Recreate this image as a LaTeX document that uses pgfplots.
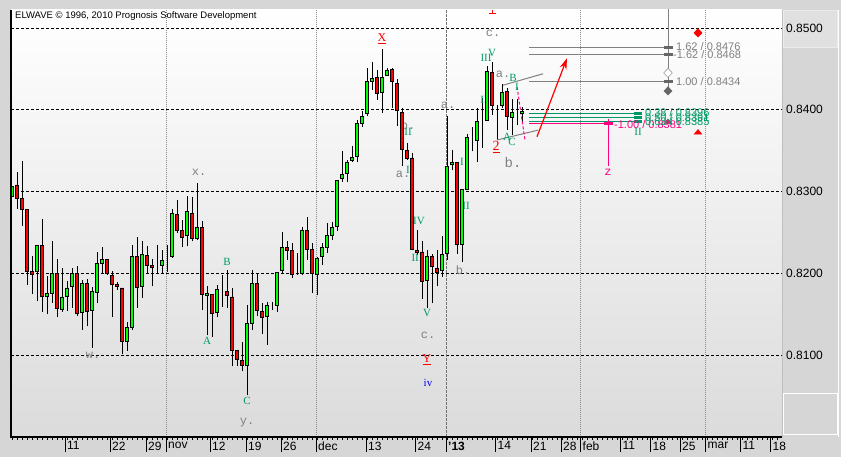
\documentclass[border=0pt]{standalone}
\usepackage{pgfplots}
\pgfplotsset{compat=1.18}
\usepackage{pgfplotstable}
\usepackage{fontspec}
\setmainfont{Liberation Sans}
\newfontfamily\mono{Liberation Mono}
\newfontfamily\serif{Liberation Serif}
\usetikzlibrary{arrows.meta}
\definecolor{teal2}{HTML}{009966}
\definecolor{pinkm}{HTML}{FF0080}
\definecolor{lgreen}{HTML}{00FF00}
\definecolor{framegray}{HTML}{D6D6D6}
\definecolor{fibgray}{HTML}{808080}
\pgfplotstableread{
i o h l c
1 0.8294 0.8320 0.8268 0.8306
2 0.8308 0.8324 0.8279 0.8292
3 0.8292 0.8337 0.8258 0.8278
4 0.8278 0.8279 0.8186 0.8202
5 0.8202 0.8221 0.8175 0.8199
6 0.8202 0.8235 0.8166 0.8234
7 0.8234 0.8266 0.8153 0.8172
8 0.8172 0.8197 0.8150 0.8175
9 0.8175 0.8240 0.8164 0.8200
10 0.8200 0.8218 0.8146 0.8157
11 0.8156 0.8206 0.8153 0.8171
12 0.8172 0.8191 0.8154 0.8182
13 0.8184 0.8207 0.8158 0.8200
14 0.8200 0.8209 0.8148 0.8151
15 0.8152 0.8192 0.8131 0.8188
16 0.8187 0.8193 0.8135 0.8153
17 0.8155 0.8183 0.8109 0.8178
18 0.8177 0.8226 0.8163 0.8212
19 0.8212 0.8232 0.8200 0.8217
20 0.8217 0.8218 0.8198 0.8200
21 0.8197 0.8203 0.8147 0.8186
22 0.8186 0.8189 0.8180 0.8184
23 0.8182 0.8182 0.8101 0.8116
24 0.8116 0.8140 0.8105 0.8134
25 0.8134 0.8235 0.8131 0.8220
26 0.8220 0.8244 0.8158 0.8183
27 0.8184 0.8240 0.8170 0.8223
28 0.8222 0.8233 0.8200 0.8210
29 0.8209 0.8217 0.8184 0.8207
30 0.8208 0.8234 0.8200 0.8208
31 0.8210 0.8229 0.8200 0.8216
32 0.8217 0.8234 0.8202 0.8217
33 0.8220 0.8279 0.8219 0.8273
34 0.8272 0.8290 0.8249 0.8252
35 0.8252 0.8265 0.8232 0.8244
36 0.8246 0.8294 0.8233 0.8275
37 0.8273 0.8293 0.8239 0.8242
38 0.8243 0.8310 0.8241 0.8256
39 0.8256 0.8264 0.8155 0.8174
40 0.8173 0.8184 0.8124 0.8175
41 0.8174 0.8175 0.8122 0.8151
42 0.8152 0.8186 0.8147 0.8180
43 0.8178 0.8198 0.8159 0.8178
44 0.8178 0.8204 0.8157 0.8173
45 0.8171 0.8182 0.8086 0.8105
46 0.8105 0.8105 0.8086 0.8095
47 0.8093 0.8116 0.8080 0.8087
48 0.8087 0.8161 0.8051 0.8138
49 0.8138 0.8204 0.8131 0.8188
50 0.8187 0.8199 0.8148 0.8154
51 0.8153 0.8164 0.8126 0.8146
52 0.8147 0.8165 0.8112 0.8160
53 0.8160 0.8165 0.8155 0.8160
54 0.8160 0.8202 0.8153 0.8201
55 0.8203 0.8251 0.8200 0.8232
56 0.8231 0.8240 0.8216 0.8228
57 0.8228 0.8237 0.8194 0.8199
58 0.8200 0.8225 0.8198 0.8200
59 0.8200 0.8256 0.8198 0.8252
60 0.8252 0.8269 0.8216 0.8229
61 0.8229 0.8237 0.8176 0.8200
62 0.8199 0.8220 0.8173 0.8218
63 0.8220 0.8237 0.8210 0.8232
64 0.8232 0.8262 0.8225 0.8246
65 0.8246 0.8263 0.8241 0.8256
66 0.8257 0.8314 0.8252 0.8314
67 0.8316 0.8350 0.8312 0.8321
68 0.8322 0.8338 0.8312 0.8336
69 0.8338 0.8356 0.8336 0.8342
70 0.8343 0.8387 0.8336 0.8383
71 0.8383 0.8398 0.8379 0.8392
72 0.8395 0.8451 0.8392 0.8434
73 0.8434 0.8458 0.8424 0.8438
74 0.8440 0.8449 0.8412 0.8420
75 0.8421 0.8474 0.8396 0.8440
76 0.8442 0.8451 0.8441 0.8448
77 0.8449 0.8451 0.8402 0.8434
78 0.8432 0.8437 0.8380 0.8399
79 0.8397 0.8402 0.8331 0.8352
80 0.8350 0.8359 0.8339 0.8341
81 0.8341 0.8347 0.8228 0.8229
82 0.8228 0.8253 0.8222 0.8226
83 0.8226 0.8239 0.8169 0.8190
84 0.8191 0.8228 0.8157 0.8220
85 0.8220 0.8224 0.8163 0.8208
86 0.8206 0.8228 0.8184 0.8201
87 0.8203 0.8245 0.8196 0.8223
88 0.8224 0.8392 0.8216 0.8331
89 0.8333 0.8351 0.8326 0.8336
90 0.8336 0.8336 0.8224 0.8235
91 0.8235 0.8303 0.8214 0.8303
92 0.8303 0.8370 0.8302 0.8366
93 0.8363 0.8379 0.8349 0.8363
94 0.8363 0.8402 0.8336 0.8386
95 0.8387 0.8414 0.8353 0.8387
96 0.8387 0.8453 0.8387 0.8447
97 0.8445 0.8459 0.8394 0.8405
98 0.8405 0.8406 0.8363 0.8405
99 0.8405 0.8432 0.8402 0.8421
100 0.8422 0.8426 0.8375 0.8392
101 0.8390 0.8413 0.8369 0.8397
102 0.8396 0.8413 0.8381 0.8396
103 0.8395 0.8403 0.8383 0.8398
}\ohlc
\tikzset{
  wl/.style={inner sep=0pt, font=\serif\fontsize{11bp}{11bp}\selectfont, text=teal2},
  gl/.style={inner sep=0pt, font=\mono\fontsize{12bp}{12bp}\selectfont, text=fibgray},
  rl/.style={inner sep=0pt, font=\serif\fontsize{12bp}{12bp}\selectfont, text=red},
  fl/.style={inner sep=0pt, anchor=west, font=\fontsize{11bp}{11bp}\selectfont},
}
\begin{document}
\begin{tikzpicture}
\fill[framegray] (0bp,0bp) rectangle (841bp,457bp);
\fill[framegray] (782bp,20bp) rectangle (838bp,447bp);
\draw[white, line width=1bp] (838bp,20bp) -- (838bp,447bp);
\fill[black!12] (783bp,409bp) rectangle (837.5bp,446bp);
\draw[white!92!black, line width=1bp] (783bp,409bp) rectangle (837.5bp,446bp);
\draw[white, line width=1bp] (783bp,22bp) rectangle (837bp,63bp);
\begin{axis}[name=ax,
  at={(11bp,20bp)}, anchor=south west, scale only axis,
  width=771bp, height=427bp,
  xmin=0.8, xmax=155, ymin=0.79997, ymax=0.8522,
  axis line style={draw=none},
  axis background/.style={top color=white, bottom color=black!14},
  ymajorgrids, grid style={black, line width=0.8bp, dash pattern=on 3bp off 2bp},
  ytick={0.81,0.82,0.83,0.84,0.85}, scaled y ticks=false,
  ytick pos=right, yticklabel pos=right, ytick style={draw=none},
  yticklabel style={font=\fontsize{12bp}{12bp}\selectfont, anchor=west, inner sep=0pt, xshift=-11bp,
    /pgf/number format/.cd, fixed, fixed zerofill, precision=4, assume math mode=true},
  xtick pos=bottom, tick align=outside, major tick length=15bp, minor tick length=2.5bp,
  x tick style={black, line width=0.9bp},
  xtick={11.6,20.6,27.8,31.8,40.6,47.8,54.8,61.8,71.8,81.7,87.8,97.7,104.8,110.8,114.7,122.7,128.7,134.6,139.7,146.7,152.7},
  xticklabels={11,22,29,nov,12,19,26,dec,13,24,{\bfseries '13},14,21,28,feb,11,18,25,mar,11,18},
  minor xtick={1,...,154},
  xticklabel style={font=\fontsize{12bp}{12bp}\selectfont, anchor=north west, inner sep=0pt, xshift=2bp, yshift=10.5bp},
]
% month separators
\draw[black!45, dash pattern=on 1bp off 1bp, line width=0.8bp] (31.8,0.79997) -- (31.8,0.8522);
\draw[black!45, dash pattern=on 1bp off 1bp, line width=0.8bp] (61.8,0.79997) -- (61.8,0.8522);
\draw[black!55, dash pattern=on 3bp off 1bp, line width=0.9bp] (87.8,0.79997) -- (87.8,0.8522);
\draw[black!45, dash pattern=on 1bp off 1bp, line width=0.8bp] (114.7,0.79997) -- (114.7,0.8522);
\draw[black!45, dash pattern=on 1bp off 1bp, line width=0.8bp] (139.7,0.79997) -- (139.7,0.8522);
% wicks
\addplot[draw=none, mark=none, error bars/.cd, y dir=plus, y explicit, error mark=none,
  error bar style={draw=black, solid, line width=1bp}]
  table[x=i, y=l, y error expr=\thisrow{h}-\thisrow{l}] {\ohlc};
% projection lines
\addplot[fibgray, line width=1bp] coordinates {(104.4,0.8476) (132.2,0.8476)};
\addplot[fibgray, line width=1bp] coordinates {(104.4,0.8468) (132.2,0.8468)};
\addplot[fibgray, line width=1bp] coordinates {(104.4,0.8434) (132.2,0.8434)};
\addplot[fibgray, line width=1bp] coordinates {(132.2,0.8525) (132.2,0.8423)};
\addplot[teal2, line width=1bp] coordinates {(104.4,0.8396) (126.2,0.8396)};
\addplot[teal2, line width=1bp] coordinates {(104.4,0.8391) (126.2,0.8391)};
\addplot[teal2, line width=1bp] coordinates {(104.4,0.8385) (126.2,0.8385)};
\addplot[pinkm, line width=1bp] coordinates {(104.4,0.8383) (120.2,0.8383)};
\addplot[pinkm, line width=1bp] coordinates {(120.2,0.8389) (120.2,0.8331)};
\addplot[black!60, line width=3bp] coordinates {(131.4,0.8476) (133.2,0.8476)};
\addplot[black!60, line width=3bp] coordinates {(131.4,0.8468) (133.2,0.8468)};
\addplot[black!60, line width=3bp] coordinates {(131.4,0.8434) (133.2,0.8434)};
\addplot[teal2, line width=3bp] coordinates {(125.4,0.8396) (127.0,0.8396)};
\addplot[teal2, line width=3bp] coordinates {(125.4,0.8391) (127.0,0.8391)};
\addplot[teal2, line width=3bp] coordinates {(125.4,0.8385) (127.0,0.8385)};
\addplot[pinkm, line width=3bp] coordinates {(119.4,0.8383) (121.2,0.8383)};
% trend lines and arrow
\addplot[fibgray, line width=1bp] coordinates {(99.2,0.8430) (107.2,0.8444)};
\addplot[fibgray, line width=1bp] coordinates {(98.0,0.8363) (106.2,0.8375)};
\addplot[pinkm, line width=1bp, dash pattern=on 3bp off 2bp] coordinates {(102.0,0.8428) (103.6,0.8363)};
\addplot[red, line width=1.2bp, -{Stealth[length=11bp, width=7bp]}] coordinates {(106.0,0.8367) (112.0,0.8463)};
% markers
\addplot[only marks, mark=diamond*, mark size=4.5bp, mark options={fill=white, draw=fibgray, xscale=1.3}] coordinates {(132.2,0.8445)};
\addplot[only marks, mark=diamond*, mark size=4.2bp, mark options={fill=black!60, draw=black!60, xscale=1.3}] coordinates {(132.2,0.8423)};
\addplot[only marks, mark=triangle*, mark size=4.5bp, mark options={fill=black!60, draw=black!60, yscale=0.7}] coordinates {(132.2,0.8385)};
\addplot[only marks, mark=diamond*, mark size=4.2bp, mark options={fill=red, draw=red, xscale=1.3}] coordinates {(138.2,0.8494)};
\addplot[only marks, mark=triangle*, mark size=4.5bp, mark options={fill=red, draw=red, yscale=0.7}] coordinates {(138.2,0.8372)};
\end{axis}
\begin{axis}[
  at={(11bp,20bp)}, anchor=south west, scale only axis,
  width=771bp, height=427bp,
  xmin=0.8, xmax=155, ymin=0.79997, ymax=0.8522,
  hide axis, ybar stacked, bar width=3.4bp,
]
\addplot[draw=none, fill=none] table[x=i, y expr={min(\thisrow{o},\thisrow{c})}] {\ohlc};
\addplot[fill=lgreen, draw=black, line width=0.9bp] table[x=i, y expr={max(\thisrow{c}-\thisrow{o},0)}] {\ohlc};
\addplot[fill=red, draw=black, line width=0.9bp] table[x=i, y expr={max(\thisrow{o}-\thisrow{c},0)}] {\ohlc};
% title
\node[anchor=west, inner sep=0pt, font=\fontsize{9.5bp}{9.5bp}\selectfont] at (1.6,0.8515) {ELWAVE \textcopyright\ 1996, 2010 Prognosis Software Development};
% gray wave labels
\node[gl] at (38.4,0.8324) {x.};
\node[gl] at (17.2,0.8099) {w.};
\node[gl] at (48,0.8017) {y.};
\node[gl] at (80.2,0.8381) {b.};
\node[gl] at (79.2,0.8321) {a.};
\node[gl] at (84.2,0.8124) {c.};
\node[gl] at (88.2,0.8406) {a.};
\node[gl] at (91.2,0.8204) {b.};
\node[gl] at (97.2,0.8494) {c.};
\node[gl] at (99.2,0.8443) {a.};
\node[gl, font=\mono\fontsize{14bp}{14bp}\selectfont] at (101.2,0.8336) {b.};
% teal wave labels
\node[wl] at (40,0.8117) {A};
\node[wl] at (44,0.8214) {B};
\node[wl] at (48,0.8044) {C};
\node[wl] at (80.2,0.8373) {II};
\node[wl] at (80.2,0.8326) {I};
\node[wl] at (82.4,0.8264) {IV};
\node[wl] at (82,0.8219) {III};
\node[wl] at (84,0.8151) {V};
\node[wl] at (91,0.8336) {I};
\node[wl] at (91.8,0.8282) {II};
\node[wl] at (95.8,0.8463) {III};
\node[wl] at (97,0.8469) {V};
\node[wl] at (101.2,0.8439) {B};
\node[wl] at (102,0.8428) {I};
\node[wl] at (95.4,0.8412) {II};
\node[wl] at (100,0.8367) {A};
\node[wl] at (101,0.8361) {C};
\node[wl] at (126.2,0.8373) {II};
% red, blue, magenta labels
\node[rl] at (75,0.8487) {\underline{X}};
\node[rl] at (84,0.8094) {\underline{Y}};
\node[rl, font=\serif\fontsize{14bp}{14bp}\selectfont] at (97.8,0.8354) {\underline{2}};
\draw[red, line width=1bp] (96.4,0.8518) -- (97.8,0.8518);
\draw[red, line width=1bp] (97.1,0.8522) -- (97.1,0.8518);
\node[wl, text=blue] at (84.2,0.8066) {iv};
\node[gl, text=pinkm] at (120.2,0.8324) {z};
% projection labels
\node[fl, text=fibgray] at (133.8,0.8477) {1.62 / 0.8476};
\node[fl, text=fibgray] at (133.2,0.8468) {-1.62 / 0.8468};
\node[fl, text=fibgray] at (133.8,0.8434) {1.00 / 0.8434};
\node[fl, text=teal2] at (127.6,0.8397) {0.38 / 0.8396};
\node[fl, text=teal2] at (127.6,0.8391) {0.50 / 0.8391};
\node[fl, text=teal2] at (127.6,0.8385) {0.62 / 0.8385};
\node[fl, text=pinkm] at (121.4,0.8382) {-1.00 / 0.8381};
\end{axis}
\draw[black, line width=1.3bp] (ax.north west) -- (ax.south west) -- (ax.south east);
\draw[black!25, line width=1bp] (782bp,20bp) -- (782bp,447bp);
\end{tikzpicture}
\end{document}
